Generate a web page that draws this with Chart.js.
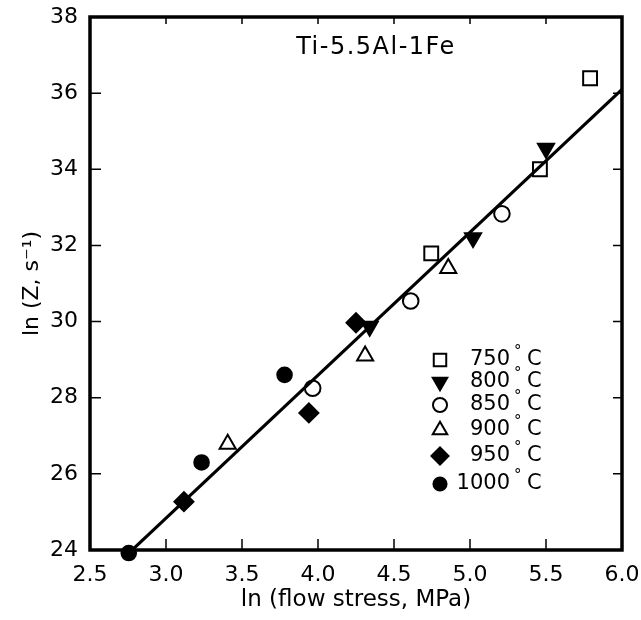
<!DOCTYPE html>
<html>
<head>
<meta charset="utf-8">
<script src="https://cdn.jsdelivr.net/npm/chart.js@4/dist/chart.umd.min.js"></script>
<style>
  body { margin: 0; background: #fff; }
</style>
</head>
<body>
<canvas id="plot" width="641" height="620"></canvas>
<script>
// tick values
const xTicks = [2.5, 3.0, 3.5, 4.0, 4.5, 5.0, 5.5, 6.0];
const yTicks = [24, 26, 28, 30, 32, 34, 36, 38];

// legend labels, one per temperature
const seriesNames = ["750", "800", "850", "900", "950", "1000"];

const x750 = [5.79, 5.46, 4.745];
const y750 = [36.39, 34.0, 31.79];
const x800 = [5.50, 5.02, 4.34];
const y800 = [34.55, 32.2, 29.87];
const x850 = [5.21, 4.61, 3.965];
const y850 = [32.83, 30.54, 28.25];
const x900 = [4.857, 4.31, 3.406];
const y900 = [31.40, 29.1, 26.78];
const x950 = [4.25, 3.94, 3.118];
const y950 = [29.97, 27.6, 25.27];
const x1000 = [3.78, 3.234, 2.755];
const y1000 = [28.6, 26.3, 23.92];

// fitted line
const fitX = [2.75, 6.0];
const fitY = [23.9, 36.1];

const FONT = "DejaVu Sans";

function pts(xs, ys) {
    return xs.map((x, i) => ({ x: x, y: ys[i] }));
}

// marker look for each series (same order as seriesNames)
const markers = [
    { pointStyle: "rect", radius: 9.8, fill: "rgba(255,255,255,0)", rotation: 0 },
    { pointStyle: "triangle", radius: 9.3, fill: "#000", rotation: 180 },
    { pointStyle: "circle", radius: 7.8, fill: "rgba(255,255,255,0)", rotation: 0 },
    { pointStyle: "triangle", radius: 9.3, fill: "rgba(255,255,255,0)", rotation: 0 },
    { pointStyle: "rectRot", radius: 9.5, fill: "#000", rotation: 0 },
    { pointStyle: "circle", radius: 7.3, fill: "#000", rotation: 0 }
];

const seriesData = [
    pts(x750, y750), pts(x800, y800), pts(x850, y850),
    pts(x900, y900), pts(x950, y950), pts(x1000, y1000)
];

const datasets = seriesData.map((d, i) => ({
    label: seriesNames[i],
    data: d,
    pointStyle: markers[i].pointStyle,
    pointRadius: markers[i].radius,
    pointRotation: markers[i].rotation,
    backgroundColor: markers[i].fill,
    borderColor: "#000",
    borderWidth: 2,
    clip: false
}));

datasets.push({
    label: "fit",
    data: pts(fitX, fitY),
    showLine: true,
    borderColor: "#000",
    borderWidth: 3.2,
    pointRadius: 0,
    fill: false,
    clip: false,
    order: -1
});

// box + inward ticks on all four sides, title and legend
const framePlugin = {
    id: "frame",
    afterDraw(chart) {
        const ctx = chart.ctx;
        const a = chart.chartArea;
        const xs = chart.scales.x;
        const ys = chart.scales.y;
        ctx.save();
        ctx.strokeStyle = "#000";

        ctx.lineWidth = 1.5;
        ctx.beginPath();
        xTicks.forEach(v => {
            const px = xs.getPixelForValue(v);
            ctx.moveTo(px, a.bottom);
            ctx.lineTo(px, a.bottom - 11);
            ctx.moveTo(px, a.top);
            ctx.lineTo(px, a.top + 7);
        });
        yTicks.forEach(v => {
            const py = ys.getPixelForValue(v);
            ctx.moveTo(a.left, py);
            ctx.lineTo(a.left + 11, py);
            ctx.moveTo(a.right, py);
            ctx.lineTo(a.right - 9, py);
        });
        ctx.stroke();

        ctx.lineWidth = 3.5;
        ctx.strokeRect(a.left, a.top, a.right - a.left, a.bottom - a.top);

        // title inside the plot
        ctx.fillStyle = "#000";
        ctx.font = "24px '" + FONT + "'";
        ctx.textAlign = "center";
        ctx.textBaseline = "middle";
        if ("letterSpacing" in ctx) ctx.letterSpacing = "1.5px";
        ctx.fillText("Ti-5.5Al-1Fe", 376, 48);
        if ("letterSpacing" in ctx) ctx.letterSpacing = "0px";

        // legend
        const rows = [360, 382, 405, 430, 456, 484];
        const helpers = Chart.helpers;
        seriesNames.forEach((name, i) => {
            const y = rows[i];
            ctx.fillStyle = markers[i].fill;
            ctx.strokeStyle = "#000";
            ctx.lineWidth = 2;
            helpers.drawPoint(ctx, {
                pointStyle: markers[i].pointStyle,
                radius: markers[i].radius * 0.9,
                rotation: markers[i].rotation,
                borderWidth: 2
            }, 440, y);

            ctx.fillStyle = "#000";
            ctx.font = "21px '" + FONT + "'";
            ctx.textAlign = "right";
            ctx.textBaseline = "middle";
            ctx.fillText(name, 510, y);
            ctx.font = "15px '" + FONT + "'";
            ctx.textAlign = "left";
            ctx.fillText("°", 514, y - 8);
            ctx.font = "21px '" + FONT + "'";
            ctx.fillText("C", 527, y);
        });
        ctx.restore();
    }
};

new Chart(document.getElementById("plot"), {
    type: "scatter",
    data: { datasets: datasets },
    options: {
        responsive: false,
        animation: false,
        layout: { padding: { left: 0, top: 17, right: 19, bottom: 0 } },
        plugins: {
            legend: { display: false },
            tooltip: { enabled: false }
        },
        scales: {
            x: {
                type: "linear",
                min: 2.5,
                max: 6.0,
                afterBuildTicks: s => { s.ticks = xTicks.map(v => ({ value: v })); },
                afterFit: s => { s.height = 70; s.paddingLeft = 0; s.paddingRight = 0; },
                grid: { display: false, drawTicks: false },
                border: { display: false },
                ticks: {
                    padding: 12,
                    color: "#000",
                    autoSkip: false,
                    maxRotation: 0,
                    font: { family: FONT, size: 22 },
                    callback: v => v.toFixed(1)
                },
                title: {
                    display: true,
                    text: "ln (flow stress, MPa)",
                    color: "#000",
                    font: { family: FONT, size: 23 },
                    padding: { top: 0, bottom: 6 }
                }
            },
            y: {
                type: "linear",
                min: 24,
                max: 38,
                afterBuildTicks: s => { s.ticks = yTicks.map(v => ({ value: v })); },
                afterFit: s => { s.width = 90; s.paddingTop = 0; s.paddingBottom = 0; },
                grid: { display: false, drawTicks: false },
                border: { display: false },
                ticks: {
                    padding: 12,
                    color: "#000",
                    autoSkip: false,
                    font: { family: FONT, size: 22 }
                },
                title: {
                    display: true,
                    text: "ln (Z, s⁻¹)",
                    color: "#000",
                    font: { family: FONT, size: 22 },
                    padding: { top: 19, bottom: 0 }
                }
            }
        }
    },
    plugins: [framePlugin]
});
</script>
</body>
</html>
